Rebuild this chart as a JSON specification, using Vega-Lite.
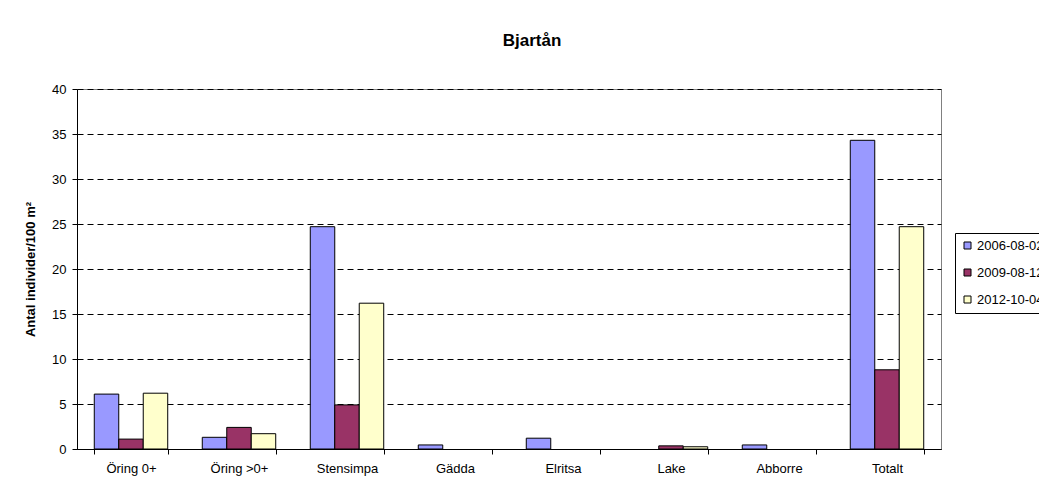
{
  "$schema": "https://vega.github.io/schema/vega-lite/v6.json",
  "width": 864,
  "height": 360,
  "autosize": {"type": "none"},
  "padding": {"left": 77, "top": 89, "right": 98, "bottom": 39},
  "background": "white",
  "title": {"text": "Bjartån", "font": "Liberation Sans", "fontSize": 17, "fontWeight": "bold", "color": "black", "anchor": "middle", "offset": 33, "dx": 23},
  "data": {"values": [
    {"art": "Öring 0+", "datum": "2006-08-02", "v": 6.1},
    {"art": "Öring 0+", "datum": "2009-08-12", "v": 1.1},
    {"art": "Öring 0+", "datum": "2012-10-04", "v": 6.2},
    {"art": "Öring >0+", "datum": "2006-08-02", "v": 1.3},
    {"art": "Öring >0+", "datum": "2009-08-12", "v": 2.4},
    {"art": "Öring >0+", "datum": "2012-10-04", "v": 1.7},
    {"art": "Stensimpa", "datum": "2006-08-02", "v": 24.7},
    {"art": "Stensimpa", "datum": "2009-08-12", "v": 4.9},
    {"art": "Stensimpa", "datum": "2012-10-04", "v": 16.2},
    {"art": "Gädda", "datum": "2006-08-02", "v": 0.45},
    {"art": "Gädda", "datum": "2009-08-12", "v": 0},
    {"art": "Gädda", "datum": "2012-10-04", "v": 0},
    {"art": "Elritsa", "datum": "2006-08-02", "v": 1.2},
    {"art": "Elritsa", "datum": "2009-08-12", "v": 0},
    {"art": "Elritsa", "datum": "2012-10-04", "v": 0},
    {"art": "Lake", "datum": "2006-08-02", "v": 0},
    {"art": "Lake", "datum": "2009-08-12", "v": 0.35},
    {"art": "Lake", "datum": "2012-10-04", "v": 0.25},
    {"art": "Abborre", "datum": "2006-08-02", "v": 0.45},
    {"art": "Abborre", "datum": "2009-08-12", "v": 0},
    {"art": "Abborre", "datum": "2012-10-04", "v": 0},
    {"art": "Totalt", "datum": "2006-08-02", "v": 34.3},
    {"art": "Totalt", "datum": "2009-08-12", "v": 8.8},
    {"art": "Totalt", "datum": "2012-10-04", "v": 24.7}
  ]},
  "transform": [{"filter": "datum.v > 0"}],
  "mark": {"type": "bar", "stroke": "black", "strokeWidth": 1},
  "encoding": {
    "x": {
      "field": "art", "type": "nominal",
      "sort": ["Öring 0+", "Öring >0+", "Stensimpa", "Gädda", "Elritsa", "Lake", "Abborre", "Totalt"],
      "scale": {"paddingInner": 0.32, "paddingOuter": 0.16},
      "axis": {"title": null, "labelAngle": 0, "tickBand": "extent", "tickSize": 5, "tickColor": "black", "domainColor": "black", "labelFont": "Liberation Sans", "labelFontSize": 13, "labelColor": "black", "labelPadding": 8}
    },
    "xOffset": {"field": "datum", "type": "nominal", "sort": ["2006-08-02", "2009-08-12", "2012-10-04"], "scale": {"domain": ["2006-08-02", "2009-08-12", "2012-10-04"], "paddingInner": 0}},
    "y": {
      "field": "v", "type": "quantitative",
      "scale": {"domain": [0, 40], "nice": false},
      "axis": {"title": "Antal individer/100 m²", "titleFont": "Liberation Sans", "titleFontSize": 13, "titleFontWeight": "bold", "titleColor": "black", "titlePadding": 14, "values": [0, 5, 10, 15, 20, 25, 30, 35, 40], "tickSize": 5, "tickColor": "black", "domainColor": "black", "labelFont": "Liberation Sans", "labelFontSize": 13, "labelColor": "black", "labelPadding": 6, "grid": true, "gridColor": "black", "gridDash": [6, 4], "gridWidth": 1}
    },
    "color": {
      "field": "datum", "type": "nominal",
      "scale": {"domain": ["2006-08-02", "2009-08-12", "2012-10-04"], "range": ["#9999FF", "#993366", "#FFFFCC"]},
      "legend": {"title": null, "orient": "none", "legendX": 878, "legendY": 144, "symbolType": "square", "symbolSize": 49, "symbolStrokeColor": "black", "symbolStrokeWidth": 1, "labelFont": "Liberation Sans", "labelFontSize": 13, "labelColor": "black", "rowPadding": 13, "padding": 6, "strokeColor": "black", "labelOffset": 3}
    }
  },
  "config": {"view": {"stroke": "#808080", "strokeWidth": 1}}
}
